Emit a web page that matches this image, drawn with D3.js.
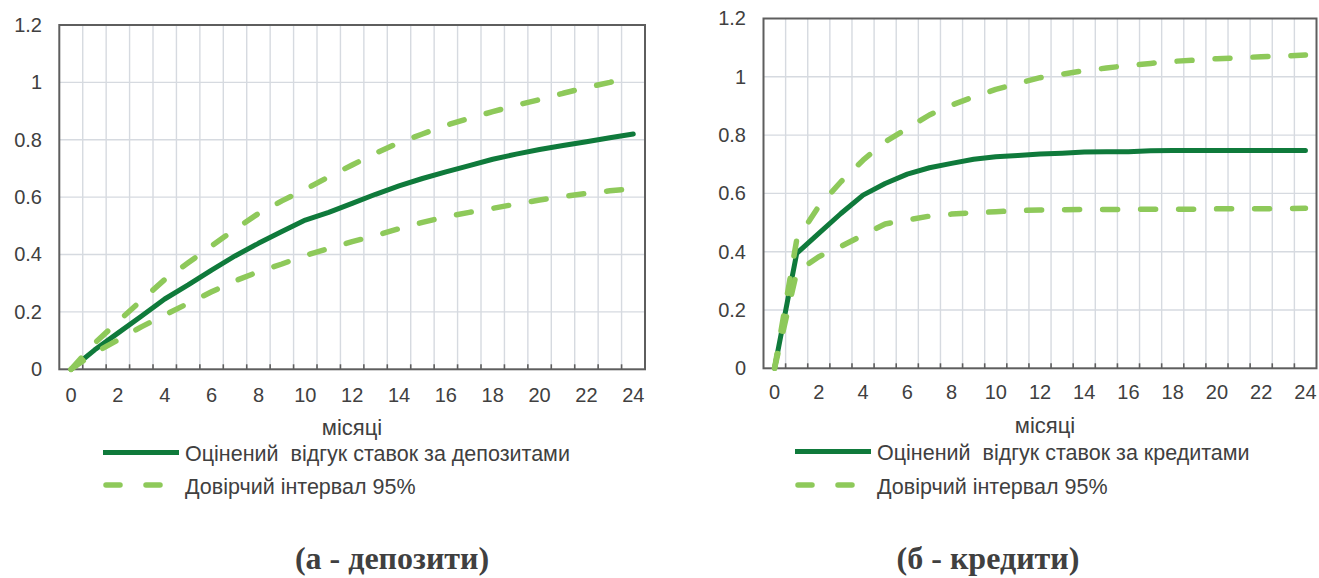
<!DOCTYPE html>
<html>
<head>
<meta charset="utf-8">
<script src="https://cdn.jsdelivr.net/npm/d3@7"></script>
<style>
  html, body { margin: 0; padding: 0; background: #fff; }
  svg { display: block; }
  text { font-family: Arial, "Liberation Sans", sans-serif; fill: #404040; }
</style>
</head>
<body>
<svg id="chart" width="1319" height="578"></svg>
<script>
// ---- data ----
const months = d3.range(0, 25);               // 0..24
const xTickLabels = [0, 2, 4, 6, 8, 10, 12, 14, 16, 18, 20, 22, 24];
const yTickValues = [0, 0.2, 0.4, 0.6, 0.8, 1, 1.2];

const depositEstimate = [0, 0.067, 0.126, 0.185, 0.245, 0.294, 0.346, 0.395, 0.439, 0.48, 0.52, 0.547, 0.578, 0.61, 0.639, 0.665, 0.688, 0.71, 0.732, 0.75, 0.766, 0.78, 0.793, 0.807, 0.82];
const depositUpper    = [0, 0.09, 0.166, 0.24, 0.313, 0.371, 0.43, 0.488, 0.543, 0.587, 0.627, 0.671, 0.712, 0.753, 0.79, 0.82, 0.85, 0.875, 0.898, 0.92, 0.94, 0.962, 0.982, 1.0, 1.02];
const depositLower    = [0, 0.057, 0.102, 0.148, 0.189, 0.23, 0.27, 0.308, 0.34, 0.367, 0.397, 0.421, 0.445, 0.466, 0.49, 0.512, 0.532, 0.547, 0.561, 0.576, 0.59, 0.602, 0.613, 0.622, 0.63];

const loanEstimate = [0, 0.394, 0.463, 0.531, 0.594, 0.634, 0.666, 0.688, 0.703, 0.717, 0.726, 0.73, 0.735, 0.738, 0.742, 0.743, 0.743, 0.746, 0.747, 0.747, 0.747, 0.747, 0.747, 0.747, 0.747];
const loanUpper    = [0, 0.44, 0.556, 0.64, 0.714, 0.777, 0.823, 0.869, 0.903, 0.931, 0.957, 0.977, 0.997, 1.009, 1.021, 1.03, 1.039, 1.046, 1.053, 1.057, 1.062, 1.065, 1.069, 1.071, 1.075];
const loanLower    = [0, 0.33, 0.383, 0.418, 0.457, 0.495, 0.509, 0.522, 0.529, 0.534, 0.537, 0.541, 0.543, 0.544, 0.545, 0.545, 0.545, 0.546, 0.546, 0.546, 0.547, 0.547, 0.547, 0.548, 0.549];

const axisTitle = "місяці";
const legendDeposit = "Оцінений  відгук ставок за депозитами";
const legendLoan = "Оцінений  відгук ставок за кредитами";
const legendCI = "Довірчий інтервал 95%";
const titleDeposit = "(а - депозити)";
const titleLoan = "(б - кредити)";

// ---- styles ----
const DARK = "#0f7a3b";
const LIGHT = "#8ec95a";
const GRID = "#d6dae0";
const FRAME = "#5e5e5e";

const svg = d3.select("#chart");

function panel(cfg) {
  const g = svg.append("g");
  const x = d3.scaleBand().domain(months).range([cfg.x0, cfg.x1]).paddingInner(0).paddingOuter(0);
  const y = d3.scaleLinear().domain([0, 1.2]).range([cfg.yB, cfg.yT]);
  const cx = d => x(d) + x.bandwidth() / 2;

  // horizontal grid
  g.append("g").selectAll("line").data(yTickValues.filter(v => v > 0 && v < 1.2)).join("line")
    .attr("x1", cfg.x0).attr("x2", cfg.x1)
    .attr("y1", d => y(d)).attr("y2", d => y(d))
    .attr("stroke", GRID).attr("stroke-width", 1.4);
  // vertical grid at category boundaries
  const bounds = months.slice(1);
  g.append("g").selectAll("line").data(bounds).join("line")
    .attr("x1", d => x(d)).attr("x2", d => x(d))
    .attr("y1", cfg.yT).attr("y2", cfg.yB)
    .attr("stroke", GRID).attr("stroke-width", 1.4);

  // x axis labels
  const xAxis = d3.axisBottom(x).tickValues(xTickLabels).tickSize(0).tickPadding(0).tickFormat(d3.format("d"));
  const xa = g.append("g").attr("transform", `translate(0,${cfg.yB})`).call(xAxis);
  xa.select(".domain").remove();
  xa.selectAll("text").attr("y", cfg.xLabelDy).attr("dy", "0").style("font-size", "20px")
    .style("font-family", "Arial, 'Liberation Sans', sans-serif").attr("fill", "#404040");
  // x tick marks (inside, at category boundaries)
  g.append("g").selectAll("line").data(bounds).join("line")
    .attr("x1", d => x(d)).attr("x2", d => x(d))
    .attr("y1", cfg.yB).attr("y2", cfg.yB - 5)
    .attr("stroke", FRAME).attr("stroke-width", 1.6);

  // y axis labels
  const yAxis = d3.axisLeft(y).tickValues(yTickValues).tickSize(0).tickPadding(0).tickFormat(d => String(d));
  const ya = g.append("g").attr("transform", `translate(${cfg.yLabelX},0)`).call(yAxis);
  ya.select(".domain").remove();
  ya.selectAll("text").attr("dy", "0.32em").style("font-size", "20px")
    .style("font-family", "Arial, 'Liberation Sans', sans-serif").attr("fill", "#404040");

  // frame
  g.append("rect").attr("x", cfg.x0).attr("y", cfg.yT)
    .attr("width", cfg.x1 - cfg.x0).attr("height", cfg.yB - cfg.yT)
    .attr("fill", "none").attr("stroke", FRAME).attr("stroke-width", 2);

  const line = d3.line().x((d, i) => cx(months[i])).y(d => y(d));

  g.append("path").datum(cfg.est).attr("d", line)
    .attr("fill", "none").attr("stroke", DARK).attr("stroke-width", 5)
    .attr("stroke-linejoin", "round").attr("stroke-linecap", "round");
  [cfg.up, cfg.lo].forEach(s => {
    g.append("path").datum(s).attr("d", line)
      .attr("fill", "none").attr("stroke", LIGHT).attr("stroke-width", 5.5)
      .attr("stroke-dasharray", "15,23").attr("stroke-linecap", "round").attr("stroke-linejoin", "round");
  });

  // axis title
  g.append("text").attr("x", cfg.axisTitleX).attr("y", cfg.axisTitleY)
    .attr("text-anchor", "middle").style("font-size", "22px").text(axisTitle);

  // legend
  const lg = g.append("g");
  lg.append("line").attr("x1", cfg.legX).attr("x2", cfg.legX + 76)
    .attr("y1", cfg.legY1).attr("y2", cfg.legY1)
    .attr("stroke", DARK).attr("stroke-width", 5);
  lg.append("text").attr("x", cfg.legX + 82).attr("y", cfg.legY1 + 8.5)
    .style("font-size", "21.5px").style("white-space", "pre").text(cfg.legendText);
  lg.append("line").attr("x1", cfg.legX + 3).attr("x2", cfg.legX + 73)
    .attr("y1", cfg.legY2).attr("y2", cfg.legY2)
    .attr("stroke", LIGHT).attr("stroke-width", 5.5)
    .attr("stroke-dasharray", "14,26").attr("stroke-linecap", "round");
  lg.append("text").attr("x", cfg.legX + 82).attr("y", cfg.legY2 + 8.5)
    .style("font-size", "21.5px").text(legendCI);

  // title
  g.append("text").attr("x", cfg.titleX).attr("y", 569)
    .attr("text-anchor", "middle")
    .style("font-family", "'Liberation Serif', 'Times New Roman', serif")
    .style("font-weight", "bold").style("font-size", "32px").attr("fill", "#1a1a1a")
    .text(cfg.title);
}

panel({
  x0: 59.3, x1: 645, yT: 25, yB: 369.3, yLabelX: 42, xLabelDy: 33,
  est: depositEstimate, up: depositUpper, lo: depositLower,
  axisTitleX: 352, axisTitleY: 435,
  legX: 103, legY1: 452.5, legY2: 485,
  legendText: legendDeposit, title: titleDeposit, titleX: 392
});
panel({
  x0: 763.5, x1: 1316.5, yT: 18.5, yB: 368.3, yLabelX: 746, xLabelDy: 31,
  est: loanEstimate, up: loanUpper, lo: loanLower,
  axisTitleX: 1045, axisTitleY: 433,
  legX: 795, legY1: 451.5, legY2: 485,
  legendText: legendLoan, title: titleLoan, titleX: 988
});
</script>
</body>
</html>
